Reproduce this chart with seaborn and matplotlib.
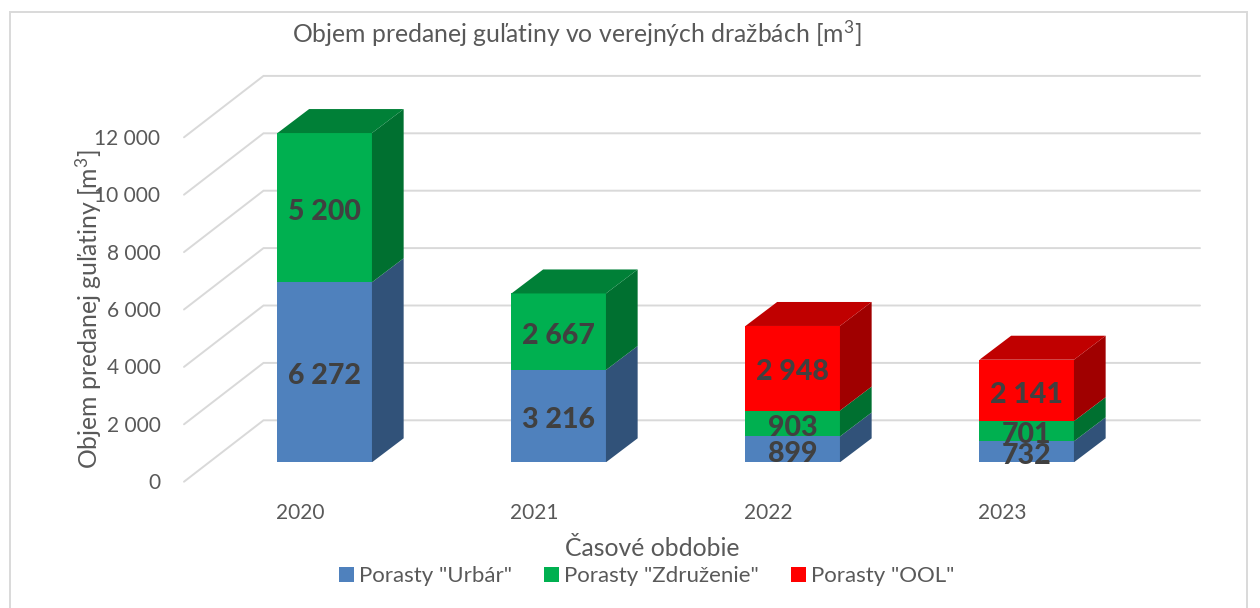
import matplotlib
matplotlib.use('Agg')
import matplotlib.pyplot as plt
import seaborn as sns
from matplotlib.patches import Polygon, Rectangle
from matplotlib.transforms import ScaledTranslation

# Data
years = ['2020', '2021', '2022', '2023']
urbar = [6272, 3216, 899, 732]
zdruzenie = [5200, 2667, 903, 701]
ool = [0, 0, 2948, 2141]
y_ticks = [0, 2000, 4000, 6000, 8000, 10000, 12000]

names = ['Porasty "Urbár"', 'Porasty "Združenie"', 'Porasty "OOL"']
front = ['#4f81bd', '#00b050', '#ff0000']
side = ['#315279', '#007030', '#a00000']
top = ['#3a6396', '#008037', '#c00000']

text_col = '#595959'
grid_col = '#d9d9d9'

# pixel geometry of the fake 3D box
W, H, DPI = 1260, 608, 100
PX_VAL = 0.0287      # px per m3
PX_CAT = 234         # px per category
LEFT, RIGHT, BASE, TOP = 184, 1200, 462.3, 12
BAR_W = 94.5 / PX_CAT
DEPTH_X = 31.7 / PX_CAT
DEPTH_Y = 24 / PX_VAL
WALL_X = 79.5 / PX_CAT
WALL_UP = 42 / PX_VAL
WALL_DOWN = 19.4 / PX_VAL


def fmt(v):
    return f'{v:,}'.replace(',', ' ')


sns.set_theme(style='white')
plt.rcParams['font.family'] = ['Lato', 'DejaVu Sans']
plt.rcParams['mathtext.default'] = 'regular'

fig = plt.figure(figsize=(W / DPI, H / DPI), dpi=DPI)
ax = fig.add_axes([LEFT / W, 1 - BASE / H, (RIGHT - LEFT) / W, (BASE - TOP) / H])

# stacked front faces
bottoms = [0, 0, 0, 0]
layers = [urbar, zdruzenie, ool]
for i, layer in enumerate(layers):
    sns.barplot(x=years, y=layer, bottom=bottoms, width=BAR_W, color=front[i],
                saturation=1, label=names[i], ax=ax, zorder=3, linewidth=0)
    labels = [fmt(v) if v > 0 else '' for v in layer]
    texts = ax.bar_label(ax.containers[i], labels=labels, label_type='center', fontsize=20.5,
                         fontweight='black', color='#404040', zorder=6)
    for t in texts:
        t.xyann = (0, -3)

    # side and top faces of every block
    for k, v in enumerate(layer):
        if v == 0:
            continue
        b = bottoms[k]
        r = k + BAR_W / 2
        l = k - BAR_W / 2
        ax.add_patch(Polygon([(r, b), (r + DEPTH_X, b + DEPTH_Y),
                              (r + DEPTH_X, b + v + DEPTH_Y), (r, b + v)],
                             fc=side[i], ec='none', zorder=4))
        if i == 2 or layers[i + 1][k] == 0:
            ax.add_patch(Polygon([(l, b + v), (l + DEPTH_X, b + v + DEPTH_Y),
                                  (r + DEPTH_X, b + v + DEPTH_Y), (r, b + v)],
                                 fc=top[i], ec='none', zorder=4))
    bottoms = [b + v for b, v in zip(bottoms, layer)]

ax.set_xlim((LEFT - 324.7) / PX_CAT, (RIGHT - 324.7) / PX_CAT)
ax.set_ylim(0, (BASE - TOP) / PX_VAL)

# wall lines
x0 = ax.get_xlim()[0]
x1 = ax.get_xlim()[1]
for t in y_ticks:
    ax.plot([x0, x0 + WALL_X, x1], [t - WALL_DOWN, t + WALL_UP, t + WALL_UP],
            color=grid_col, lw=1.4, zorder=1, clip_on=False, solid_joinstyle='miter')

ax.set_yticks(y_ticks)
ax.set_yticklabels([fmt(t) for t in y_ticks])
ax.tick_params(axis='y', length=0, pad=17, labelsize=15, labelcolor=text_col)
ax.tick_params(axis='x', length=0, pad=29, labelsize=15, labelcolor=text_col)
for lab in ax.get_yticklabels():
    lab.set_transform(lab.get_transform() + ScaledTranslation(0, -19 / DPI, fig.dpi_scale_trans))
for lab in ax.get_xticklabels():
    lab.set_transform(lab.get_transform() + ScaledTranslation(-24.5 / DPI, 0, fig.dpi_scale_trans))

sns.despine(ax=ax, left=True, bottom=True)
ax.patch.set_alpha(0)

ax.set_title('Objem predanej guľatiny vo verejných dražbách [m$^{3}$]', fontsize=17.8,
             color=text_col, x=(576.5 - LEFT) / (RIGHT - LEFT), y=0.933, pad=0)
ax.set_xlabel('Časové obdobie', fontsize=17.8, color=text_col)
ax.xaxis.set_label_coords((652 - LEFT) / (RIGHT - LEFT), -0.166)
ax.set_ylabel('Objem predanej guľatiny [m$^{3}$]', fontsize=17.8, color=text_col)
ax.yaxis.set_label_coords((104 - LEFT) / (RIGHT - LEFT), (BASE - 309) / (BASE - TOP))

ax.legend(loc='center', bbox_to_anchor=(647 / W, 1 - 576 / H), bbox_transform=fig.transFigure,
          ncol=3, frameon=False, fontsize=16, labelcolor=text_col, handlelength=0.65,
          handleheight=0.65, handletextpad=0.25, columnspacing=1.45)

# chart frame
fig.add_artist(Rectangle((9.5 / W, -0.05), (1247 - 9.5) / W, 1.05 - 12.5 / H, fill=False,
                         ec=grid_col, lw=1.4, transform=fig.transFigure))

fig.savefig('out.png', dpi=DPI, facecolor='white')
